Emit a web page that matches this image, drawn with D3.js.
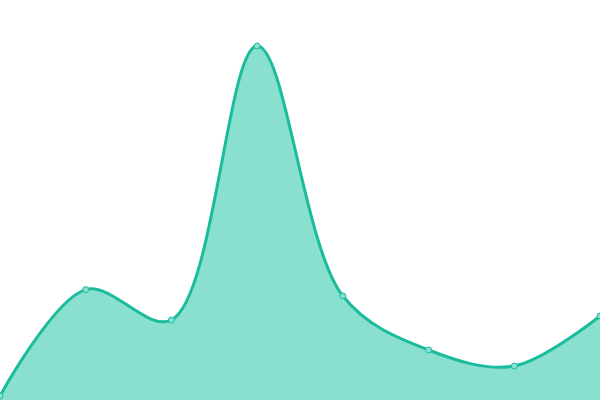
<!DOCTYPE html>
<html><head><meta charset="utf-8">
<script src="https://cdn.jsdelivr.net/npm/d3@7"></script>
<style>html,body{margin:0;padding:0;background:#fff;}svg{display:block;}</style>
</head><body>
<svg id="c" width="600" height="400"></svg>
<script>
const categories = ["A","B","C","D","E","F","G","H"];
const values = [1, 27.6, 20, 88.5, 26, 12.5, 8.5, 21];

const W = 600, H = 400;
const svg = d3.select("#c");
const x = d3.scalePoint().domain(categories).range([0, W]);
const y = d3.scaleLinear().domain([0, 100]).range([H, 0]);
const data = categories.map((c, i) => ({c, v: values[i]}));
const curve = d3.curveCatmullRom.alpha(0.5);

svg.append("path").datum(data)
  .attr("d", d3.area().x(d => x(d.c)).y0(y(0)).y1(d => y(d.v)).curve(curve))
  .attr("fill", "#89e0cf");
svg.append("path").datum(data)
  .attr("d", d3.line().x(d => x(d.c)).y(d => y(d.v)).curve(curve))
  .attr("fill", "none").attr("stroke", "#1abc9c").attr("stroke-width", 3);
svg.selectAll("circle").data(data).join("circle")
  .attr("cx", d => x(d.c)).attr("cy", d => y(d.v)).attr("r", 3)
  .attr("fill", "#89e0cf").attr("stroke", "#1abc9c").attr("stroke-width", 1);
</script>
</body></html>
